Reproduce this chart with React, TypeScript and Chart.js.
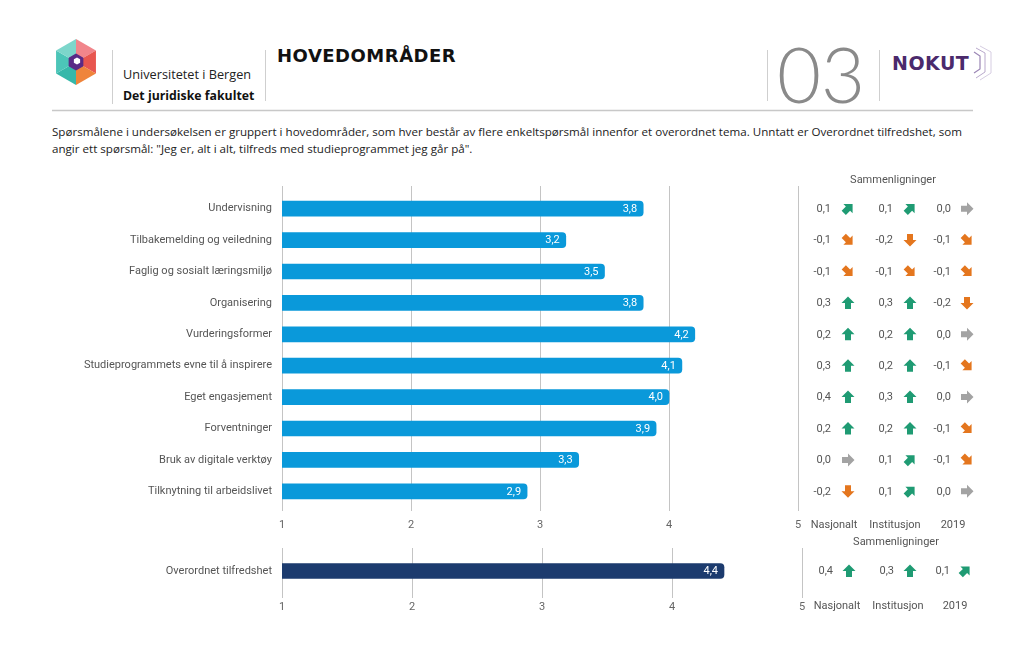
import React, { useEffect, useRef } from "react";
import { Chart, registerables } from "chart.js";

Chart.register(...registerables);

const categories = [
  "Undervisning",
  "Tilbakemelding og veiledning",
  "Faglig og sosialt læringsmiljø",
  "Organisering",
  "Vurderingsformer",
  "Studieprogrammets evne til å inspirere",
  "Eget engasjement",
  "Forventninger",
  "Bruk av digitale verktøy",
  "Tilknytning til arbeidslivet",
];
const scores = [3.8, 3.2, 3.5, 3.8, 4.2, 4.1, 4.0, 3.9, 3.3, 2.9];
const diffNasjonalt = [0.1, -0.1, -0.1, 0.3, 0.2, 0.3, 0.4, 0.2, 0.0, -0.2];
const diffInstitusjon = [0.1, -0.2, -0.1, 0.3, 0.2, 0.2, 0.3, 0.2, 0.1, 0.1];
const diff2019 = [0.0, -0.1, -0.1, -0.2, 0.0, -0.1, 0.0, -0.1, -0.1, 0.0];

const overallCategories = ["Overordnet tilfredshet"];
const overallScores = [4.4];
const overallNasjonalt = [0.4];
const overallInstitusjon = [0.3];
const overall2019 = [0.1];

const compareHeaders = ["Nasjonalt", "Institusjon", "2019"];
const compareTitle = "Sammenligninger";
const tickValues = [1, 2, 3, 4, 5];

const BLUE = "#0a99da";
const NAVY = "#1c3b6e";
const GREEN = "#1f9b73";
const ORANGE = "#e4761e";
const GREYARROW = "#a3a3a3";
const TEXT = "#555555";
const FONT = "Roboto";

const fmt = (v: number) => v.toFixed(1).replace(".", ",").replace(/^-0,0$/, "0,0");

function drawArrow(ctx: CanvasRenderingContext2D, cx: number, cy: number, v: number) {
  let angle = 0;
  let color = GREEN;
  const r = Math.round(v * 10);
  if (r >= 2) { angle = 0; color = GREEN; }
  else if (r === 1) { angle = Math.PI / 4; color = GREEN; }
  else if (r === 0) { angle = Math.PI / 2; color = GREYARROW; }
  else if (r === -1) { angle = (3 * Math.PI) / 4; color = ORANGE; }
  else { angle = Math.PI; color = ORANGE; }
  ctx.save();
  ctx.translate(cx, cy);
  ctx.rotate(angle);
  ctx.beginPath();
  ctx.moveTo(0, -6.5);
  ctx.lineTo(6.5, 0);
  ctx.lineTo(3, 0);
  ctx.lineTo(3, 6);
  ctx.lineTo(-3, 6);
  ctx.lineTo(-3, 0);
  ctx.lineTo(-6.5, 0);
  ctx.closePath();
  ctx.fillStyle = color;
  ctx.fill();
  ctx.restore();
}

function makePlugin(opts: {
  cols: number[][];
  valueRight: number[];
  arrowX: number[];
  headerX: number[];
  titleX: number;
  titleY: number;
  headerOffset: number;
  extendTop: number;
}) {
  return {
    id: "extras",
    afterDraw(chart: any) {
      const ctx: CanvasRenderingContext2D = chart.ctx;
      const xs = chart.scales.x;
      const ys = chart.scales.y;
      const area = chart.chartArea;
      ctx.save();
      if (opts.extendTop > 0) {
        ctx.strokeStyle = "#c4c4c4";
        ctx.lineWidth = 1;
        tickValues.forEach((t) => {
          const x = Math.round(xs.getPixelForValue(t)) + 0.5;
          ctx.beginPath();
          ctx.moveTo(x, area.top - opts.extendTop);
          ctx.lineTo(x, area.top);
          ctx.stroke();
        });
      }
      const meta = chart.getDatasetMeta(0);
      const data = chart.data.datasets[0].data as number[];
      ctx.font = `11px ${FONT}`;
      ctx.fillStyle = "#ffffff";
      ctx.textAlign = "right";
      ctx.textBaseline = "middle";
      meta.data.forEach((el: any, i: number) => {
        ctx.fillText(fmt(data[i]), el.x - 6, el.y + 0.5);
      });
      ctx.fillStyle = TEXT;
      ctx.font = `11px ${FONT}`;
      opts.cols.forEach((col, c) => {
        col.forEach((v, i) => {
          const y = ys.getPixelForValue(i);
          ctx.textAlign = "right";
          ctx.fillStyle = TEXT;
          ctx.fillText(fmt(v), opts.valueRight[c], y + 0.5);
          drawArrow(ctx, opts.arrowX[c], y, v);
        });
      });
      ctx.fillStyle = TEXT;
      ctx.textAlign = "center";
      ctx.fillText(compareTitle, opts.titleX, opts.titleY);
      const hy = area.bottom + opts.headerOffset;
      compareHeaders.forEach((h, c) => {
        ctx.fillText(h, opts.headerX[c], hy);
      });
      ctx.restore();
    },
  };
}

function makeConfig(labels: string[], values: number[], color: string, padding: any, xHeight: number, tickPad: number, plugin: any) {
  return {
    type: "bar" as const,
    data: {
      labels,
      datasets: [
        {
          data: values,
          backgroundColor: color,
          borderRadius: 4,
          borderSkipped: "start" as const,
          barThickness: 15,
        },
      ],
    },
    options: {
      indexAxis: "y" as const,
      animation: false as const,
      responsive: false,
      maintainAspectRatio: false,
      layout: { padding },
      plugins: { legend: { display: false }, tooltip: { enabled: false } },
      scales: {
        x: {
          min: 1,
          max: 5,
          ticks: { stepSize: 1, color: "#666", font: { family: FONT, size: 11 }, padding: tickPad },
          grid: { color: "#c4c4c4", lineWidth: 1, tickLength: 4, drawTicks: true },
          border: { display: false },
          afterFit: (s: any) => { s.height = xHeight; },
        },
        y: {
          grid: { display: false, drawTicks: false },
          border: { display: false },
          ticks: { color: TEXT, font: { family: FONT, size: 11 }, padding: 10 },
          afterFit: (s: any) => { s.width = 282; },
        },
      },
    },
    plugins: [plugin],
  };
}

export default function App() {
  const topRef = useRef<HTMLCanvasElement>(null);
  const botRef = useRef<HTMLCanvasElement>(null);

  useEffect(() => {
    const topPlugin = makePlugin({
      cols: [diffNasjonalt, diffInstitusjon, diff2019],
      valueRight: [831, 893, 951],
      arrowX: [848, 910, 967],
      headerX: [834, 895, 953],
      titleX: 893,
      titleY: 10,
      headerOffset: 18.5,
      extendTop: 7,
    });
    const botPlugin = makePlugin({
      cols: [overallNasjonalt, overallInstitusjon, overall2019],
      valueRight: [833, 894, 950],
      arrowX: [849, 910, 965],
      headerX: [837, 898, 955],
      titleX: 896,
      titleY: 12,
      headerOffset: 12.5,
      extendTop: 0,
    });
    const c1 = new Chart(
      topRef.current!,
      makeConfig(categories, scores, BLUE, { top: 23, right: 226, bottom: 4, left: 0 }, 29, 8, topPlugin) as any
    );
    const c2 = new Chart(
      botRef.current!,
      makeConfig(overallCategories, overallScores, NAVY, { top: 18, right: 222, bottom: 4, left: 0 }, 66, 2.5, botPlugin) as any
    );
    return () => {
      c1.destroy();
      c2.destroy();
    };
  }, []);

  const hexPts = (cx: number, cy: number, r: number) =>
    [0, 1, 2, 3, 4, 5]
      .map((k) => {
        const a = (Math.PI / 180) * (-90 + 60 * k);
        return [cx + r * Math.cos(a), cy + r * Math.sin(a)];
      });
  const outer = hexPts(76, 62, 23);
  const faceColors = ["#f1858b", "#e8564f", "#ef843b", "#36b8aa", "#4cc5b8", "#7dd6cb"];
  const inner = hexPts(76, 62, 8.5);
  const innerW = hexPts(77, 61, 3.6);

  const abs = (s: React.CSSProperties): React.CSSProperties => ({ position: "absolute", ...s });
  const sans = "'Open Sans', 'DejaVu Sans', sans-serif";

  return (
    <div style={abs({ left: 0, top: 0, width: 1024, height: 664, background: "#fff", overflow: "hidden" })}>
      <svg width={1024} height={120} style={abs({ left: 0, top: 0 })}>
        {faceColors.map((col, k) => {
          const p1 = outer[k];
          const p2 = outer[(k + 1) % 6];
          return <polygon key={k} points={`76,62 ${p1[0]},${p1[1]} ${p2[0]},${p2[1]}`} fill={col} />;
        })}
        <polygon points={inner.map((p) => p.join(",")).join(" ")} fill="#5a2a86" />
        <polygon points={innerW.map((p) => p.join(",")).join(" ")} fill="#ffffff" />
        <line x1={112.5} y1={50} x2={112.5} y2={104} stroke="#cfcfcf" strokeWidth={1} />
        <line x1={265.5} y1={50} x2={265.5} y2={101} stroke="#cfcfcf" strokeWidth={1} />
        <line x1={767.5} y1={50} x2={767.5} y2={101} stroke="#cfcfcf" strokeWidth={1} />
        <line x1={879.5} y1={50} x2={879.5} y2={101} stroke="#cfcfcf" strokeWidth={1} />
        <line x1={52} y1={110.5} x2={973} y2={110.5} stroke="#c8c8c8" strokeWidth={1.5} />
        <polyline points="976,48 985,53 985,72 976,78" fill="none" stroke="#b9a9cc" strokeWidth={1} />
        <polyline points="980,46 991,52 991,73 980,80" fill="none" stroke="#d6cde2" strokeWidth={1} />
        <polyline points="974,52 980,56 980,69 974,73" fill="none" stroke="#9b86b5" strokeWidth={1.2} />
      </svg>
      <div style={abs({ left: 123, top: 65, fontFamily: sans, fontSize: 12.7, color: "#222", whiteSpace: "nowrap" })}>
        Universitetet i Bergen
      </div>
      <div style={abs({ left: 123, top: 87, fontFamily: sans, fontSize: 12.3, fontWeight: 700, color: "#111", whiteSpace: "nowrap" })}>
        Det juridiske fakultet
      </div>
      <div style={abs({ left: 277, top: 45, fontFamily: "'DejaVu Sans', sans-serif", fontSize: 18, fontWeight: 700, color: "#111", letterSpacing: 0.5, whiteSpace: "nowrap" })}>
        HOVEDOMRÅDER
      </div>
      <div style={abs({ left: 777, top: 28, fontFamily: "Lato, sans-serif", fontSize: 76, fontWeight: 300, color: "#8a8a8a", lineHeight: "92px", whiteSpace: "nowrap" })}>
        03
      </div>
      <div style={abs({ left: 892, top: 52, fontFamily: "'DejaVu Sans', sans-serif", fontSize: 19, fontWeight: 700, color: "#4b2a6c", letterSpacing: 0.5, whiteSpace: "nowrap" })}>
        NOKUT
      </div>
      <div style={abs({ left: 52, top: 123, fontFamily: sans, fontSize: 11.6, color: "#222", lineHeight: "17px", whiteSpace: "nowrap" })}>
        Spørsmålene i undersøkelsen er gruppert i hovedområder, som hver består av flere enkeltspørsmål innenfor et overordnet tema. Unntatt er Overordnet tilfredshet, som
        <br />
        angir ett spørsmål: "Jeg er, alt i alt, tilfreds med studieprogrammet jeg går på".
      </div>
      <canvas ref={topRef} width={1024} height={370} style={abs({ left: 0, top: 170, width: 1024, height: 370 })} />
      <canvas ref={botRef} width={1024} height={134} style={abs({ left: 0, top: 530, width: 1024, height: 134 })} />
    </div>
  );
}
